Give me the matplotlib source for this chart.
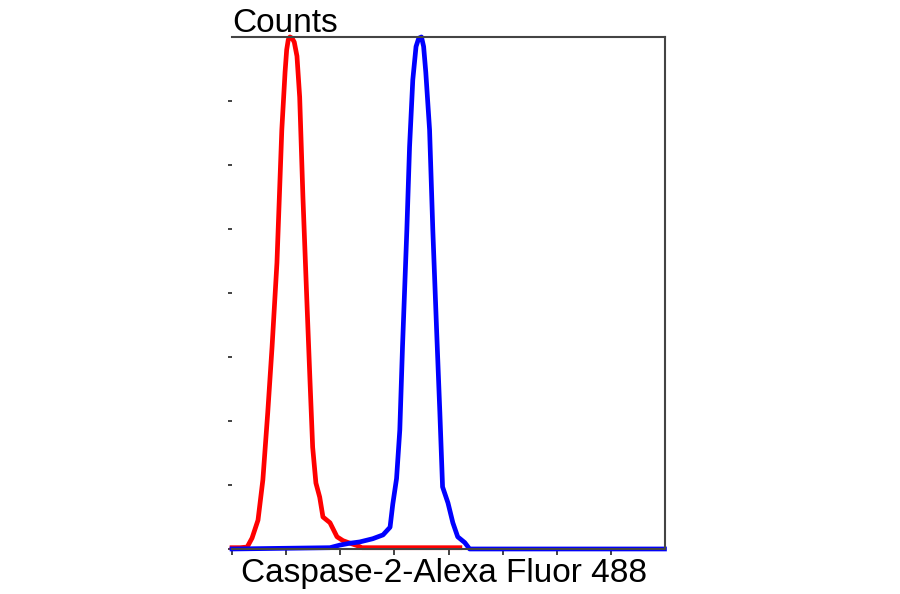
import matplotlib.pyplot as plt

# Histogram traces (x in axis units 0-8, counts scaled 0-8)
red_x = [0.00, 0.15, 0.28, 0.37, 0.48, 0.57, 0.66, 0.74, 0.83, 0.92, 0.98, 1.01, 1.04,
         1.07, 1.11, 1.15, 1.20, 1.25, 1.31, 1.38, 1.44, 1.49, 1.55, 1.62, 1.68, 1.81,
         1.94, 2.05, 2.18, 2.32, 2.40, 4.21]
red_y = [0.02, 0.02, 0.03, 0.17, 0.45, 1.08, 2.13, 3.16, 4.47, 6.55, 7.45, 7.80, 7.96,
         8.00, 7.98, 7.92, 7.70, 7.06, 5.50, 3.94, 2.64, 1.59, 1.03, 0.81, 0.50, 0.41,
         0.19, 0.13, 0.09, 0.05, 0.02, 0.02]

blue_x = [0.00, 1.81, 1.99, 2.18, 2.36, 2.60, 2.79, 2.92, 2.97, 3.04, 3.10, 3.15, 3.23,
          3.28, 3.34, 3.40, 3.45, 3.50, 3.54, 3.58, 3.65, 3.71, 3.78, 3.84, 3.89, 3.99,
          4.08, 4.17, 4.30, 4.39, 7.99]
blue_y = [0.00, 0.02, 0.06, 0.09, 0.11, 0.16, 0.22, 0.34, 0.70, 1.10, 1.86, 3.16, 4.98,
          6.28, 7.33, 7.85, 7.98, 8.00, 7.85, 7.45, 6.55, 4.98, 3.42, 2.13, 0.97, 0.72,
          0.41, 0.19, 0.10, 0.00, 0.00]

x_ticks = [0, 1, 2, 3, 4, 5, 6, 7]
y_ticks = [0, 1, 2, 3, 4, 5, 6, 7]

fig = plt.figure(figsize=(9, 5.94), dpi=100)
ax = fig.add_axes([0.2578, 0.0758, 0.4811, 0.862])

ax.plot(red_x, red_y, color='#ff0000', lw=3.4, solid_joinstyle='round', clip_on=False)
ax.plot(blue_x, blue_y, color='#0000ff', lw=3.4, solid_joinstyle='round', clip_on=False)

ax.set_xlim(0, 8)
ax.set_ylim(0, 8)
ax.set_xticks(x_ticks)
ax.set_yticks(y_ticks)
ax.set_xticklabels([])
ax.set_yticklabels([])
ax.tick_params(axis='x', direction='out', length=4, width=1.2, color='#222222')
ax.tick_params(axis='y', direction='out', length=3, width=1.2, color='#222222', pad=2)

ax.spines['left'].set_visible(False)
for side in ['top', 'right', 'bottom']:
    ax.spines[side].set_color('#444444')
    ax.spines[side].set_linewidth(1.5)

font = 'Liberation Sans'
ax.annotate('Counts', xy=(0, 1), xycoords='axes fraction', xytext=(0, 5),
            textcoords='offset pixels', ha='left', va='baseline',
            fontsize=24, family=font)
ax.annotate('Caspase-2-Alexa Fluor 488', xy=(0.49, 0), xycoords='axes fraction',
            xytext=(0, -33), textcoords='offset pixels', ha='center', va='baseline',
            fontsize=24, family=font)

fig.savefig('out.png', dpi=100)
